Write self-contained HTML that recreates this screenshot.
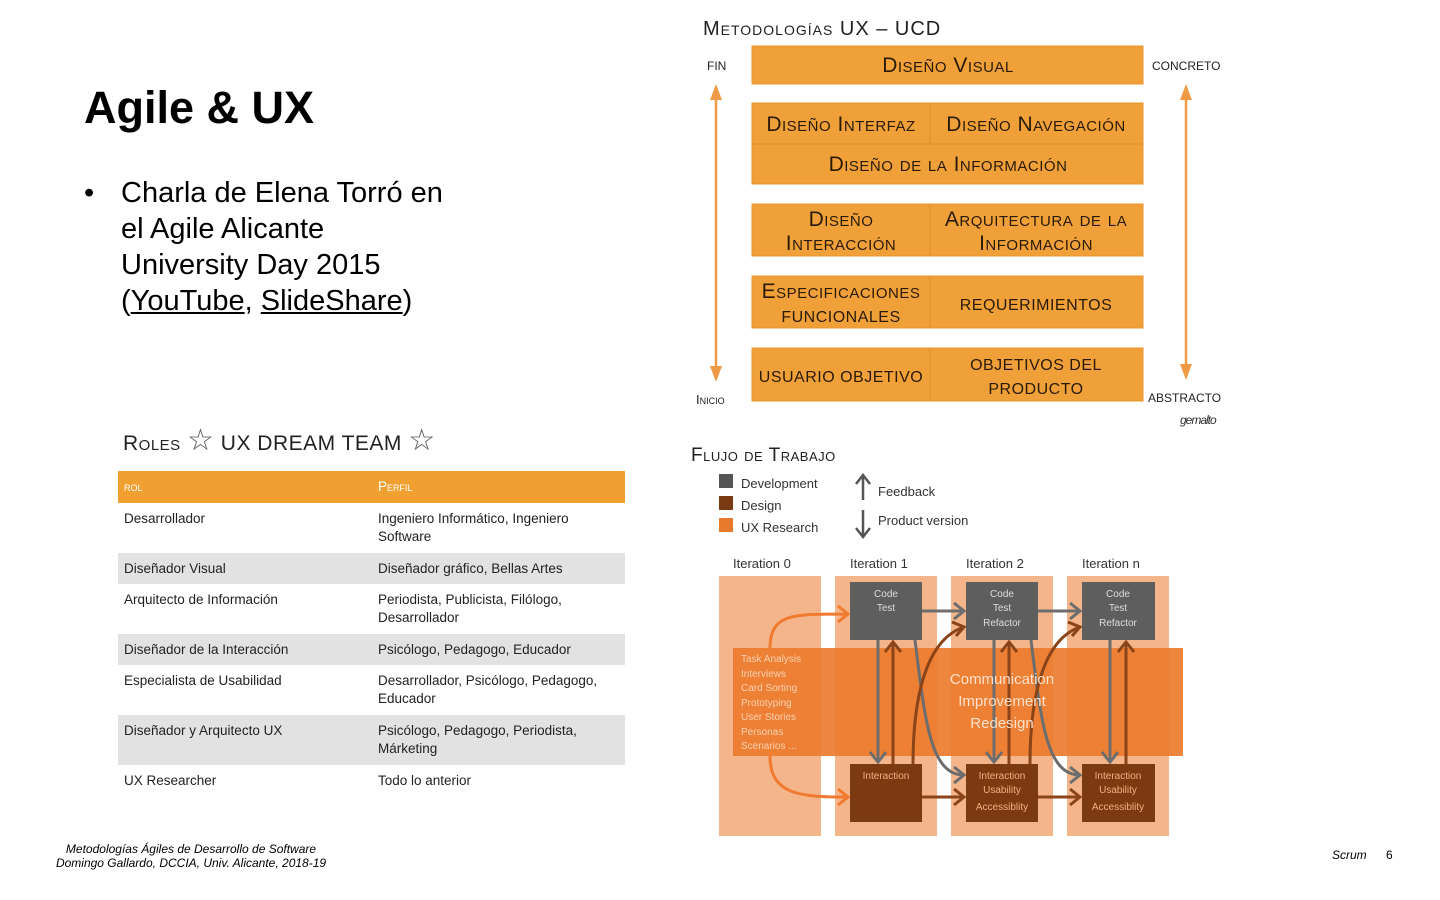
<!DOCTYPE html>
<html><head><meta charset="utf-8"><style>
body{margin:0;width:1440px;height:900px;background:#fff;position:relative;overflow:hidden;font-family:"Liberation Sans",sans-serif;}
.a{position:absolute;}
h1{position:absolute;left:84px;top:82px;margin:0;font-size:45px;font-weight:bold;color:#000;}
.bul{left:84px;top:175px;font-size:29px;line-height:36px;color:#000;}
table{position:absolute;left:118px;top:471px;width:507px;border-collapse:collapse;font-size:13.5px;color:#222;}
td{vertical-align:top;padding:7px 6px 6px;line-height:18px;}
tr.d td{padding-bottom:7px;}
tr.h td{background:#f0a030;color:#fff;font-variant:small-caps;height:17px;padding:7px 6px;}
tr.g td{background:#e2e2e2;}
.foot{font-size:12px;font-style:italic;color:#000;}
</style></head><body>
<h1>Agile &amp; UX</h1>
<div class="a bul"><span style="position:absolute;left:0">•</span><div style="margin-left:37px;width:330px">Charla de Elena Torró en el Agile Alicante University Day 2015 (<u>YouTube</u>, <u>SlideShare</u>)</div></div>

<div class="a" style="left:123px;top:423px;font-size:21px;color:#222;font-variant:small-caps;letter-spacing:.5px">Roles <span style="font-size:30px;color:#555">☆</span> UX DREAM TEAM <span style="font-size:30px;color:#555">☆</span></div>
<table>
<tr class="h"><td style="width:242px">rol</td><td>Perfil</td></tr>
<tr class="d"><td>Desarrollador</td><td>Ingeniero Informático, Ingeniero Software</td></tr>
<tr class="g"><td>Diseñador Visual</td><td>Diseñador gráfico, Bellas Artes</td></tr>
<tr class="d"><td>Arquitecto de Información</td><td>Periodista, Publicista, Filólogo, Desarrollador</td></tr>
<tr class="g"><td>Diseñador de la Interacción</td><td>Psicólogo, Pedagogo, Educador</td></tr>
<tr class="d"><td>Especialista de Usabilidad</td><td>Desarrollador, Psicólogo, Pedagogo, Educador</td></tr>
<tr class="g d"><td>Diseñador y Arquitecto UX</td><td>Psicólogo, Pedagogo, Periodista, Márketing</td></tr>
<tr><td>UX Researcher</td><td>Todo lo anterior</td></tr>
</table>

<div class="a foot" style="left:26px;top:842px;width:330px;text-align:center;line-height:14px">Metodologías Ágiles de Desarrollo de Software<br>Domingo Gallardo, DCCIA, Univ. Alicante, 2018-19</div>
<div class="a foot" style="left:1332px;top:848px">Scrum</div>
<div class="a foot" style="left:1386px;top:848px;font-style:normal">6</div>

<svg class="a" style="left:0;top:0" width="1440" height="900" font-family="Liberation Sans, sans-serif">
<g font-variant="small-caps" fill="#222">
<text x="703" y="35" font-size="20" letter-spacing="1">Metodologías UX – UCD</text>
<text x="707" y="70" font-size="12">FIN</text>
<text x="1152" y="70" font-size="12">CONCRETO</text>
<text x="696" y="404" font-size="13">Inicio</text>
<text x="1148" y="402" font-size="12">ABSTRACTO</text>
</g>
<text x="1180" y="424" font-size="12" font-style="italic" letter-spacing="-1" fill="#333">gemalto</text>
<g fill="#f0a038" stroke="#e89530">
<rect x="752" y="46" width="391" height="38"/>
<rect x="752" y="103" width="391" height="81"/>
<rect x="752" y="204" width="391" height="52"/>
<rect x="752" y="276" width="391" height="52"/>
<rect x="752" y="348" width="391" height="53"/>
</g>
<g stroke="#e0902c" stroke-width="1"><line x1="930" y1="103" x2="930" y2="144"/><line x1="752" y1="144" x2="1143" y2="144"/><line x1="930" y1="204" x2="930" y2="256"/><line x1="930" y1="276" x2="930" y2="328"/><line x1="930" y1="348" x2="930" y2="401"/></g>
<g stroke="#ef9a45" stroke-width="2.5"><line x1="716" y1="96" x2="716" y2="370"/><line x1="1186" y1="96" x2="1186" y2="368"/></g>
<g fill="#ef9a45"><path d="M716,84l-6,16h12z"/><path d="M716,382l-6,-16h12z"/><path d="M1186,84l-6,16h12z"/><path d="M1186,380l-6,-16h12z"/></g>
<g font-variant="small-caps" fill="#2a1a08" text-anchor="middle" font-size="21" letter-spacing="0.5">
<text x="948" y="72">Diseño Visual</text>
<text x="841" y="131">Diseño Interfaz</text>
<text x="1036" y="131">Diseño Navegación</text>
<text x="948" y="171">Diseño de la Información</text>
<text x="841" y="226">Diseño</text><text x="841" y="250">Interacción</text>
<text x="1036" y="226">Arquitectura de la</text><text x="1036" y="250">Información</text>
<text x="841" y="298">Especificaciones</text><text x="841" y="322" font-size="16">FUNCIONALES</text>
<text x="1036" y="310" font-size="16">REQUERIMIENTOS</text>
<text x="841" y="382" font-size="16">USUARIO OBJETIVO</text>
<text x="1036" y="370" font-size="16">OBJETIVOS DEL</text><text x="1036" y="394" font-size="16">PRODUCTO</text>
</g>

<text x="691" y="461" font-size="19" font-variant="small-caps" fill="#222" letter-spacing="0.5">Flujo de Trabajo</text>
<rect x="719" y="474" width="14" height="14" fill="#555"/>
<rect x="719" y="496" width="14" height="14" fill="#7a3a12"/>
<rect x="719" y="518" width="14" height="14" fill="#e87a2e"/>
<g font-size="13" fill="#333"><text x="741" y="488">Development</text><text x="741" y="510">Design</text><text x="741" y="532">UX Research</text>
<text x="878" y="496">Feedback</text><text x="878" y="525">Product version</text>
<text x="733" y="568">Iteration 0</text><text x="850" y="568">Iteration 1</text><text x="966" y="568">Iteration 2</text><text x="1082" y="568">Iteration n</text></g>
<g stroke="#555" stroke-width="2.5" fill="none"><path d="M863,500V476M856,484l7,-9l7,9"/><path d="M863,510V536M856,528l7,9l7,-9"/></g>

<g fill="#f4b58a">
<rect x="719" y="576" width="102" height="260"/><rect x="835" y="576" width="102" height="260"/><rect x="951" y="576" width="102" height="260"/><rect x="1067" y="576" width="102" height="260"/>
</g>
<rect x="733" y="648" width="450" height="108" fill="#ec7c2e" opacity=".92"/>
<g fill="#5e5e5e"><rect x="850" y="582" width="72" height="58"/><rect x="966" y="582" width="72" height="58"/><rect x="1082" y="582" width="73" height="58"/></g>
<g fill="#7b3a10"><rect x="850" y="764" width="72" height="58"/><rect x="966" y="764" width="72" height="58"/><rect x="1082" y="764" width="73" height="58"/></g>
<g fill="none" stroke-width="3">
<path d="M770,648C770,610 800,615 848,614M838,606l10,8l-10,8" stroke="#ef7a30"/>
<path d="M770,756C770,795 800,797 848,797M838,789l10,8l-10,8" stroke="#ef7a30"/>
<g stroke="#6d6d6d"><path d="M922,611H964M954,603l10,8l-10,8"/><path d="M1038,611H1080M1070,603l10,8l-10,8"/>
<path d="M878,640V762M870,752l8,10l8,-10"/><path d="M994,640V762M986,752l8,10l8,-10"/><path d="M1110,640V762M1102,752l8,10l8,-10"/>
<path d="M915,640C925,720 930,775 964,775M954,767l10,8l-10,8"/><path d="M1031,640C1041,720 1046,775 1080,775M1070,767l10,8l-10,8"/></g>
<g stroke="#8a4418"><path d="M893,764V642M885,652l8,-10l8,10"/><path d="M1009,764V642M1001,652l8,-10l8,10"/><path d="M1126,764V642M1118,652l8,-10l8,10"/>
<path d="M922,797H964M954,789l10,8l-10,8"/><path d="M1038,797H1080M1070,789l10,8l-10,8"/>
<path d="M913,764C913,700 925,640 964,627M952,622l12,5l-8,9"/><path d="M1030,764C1030,700 1042,640 1080,627M1068,622l12,5l-8,9"/></g>
</g>
<g font-size="10" fill="#ddd" text-anchor="middle"><text x="886" y="597">Code</text><text x="886" y="611">Test</text>
<text x="1002" y="597">Code</text><text x="1002" y="611">Test</text><text x="1002" y="626">Refactor</text>
<text x="1118" y="597">Code</text><text x="1118" y="611">Test</text><text x="1118" y="626">Refactor</text></g>
<g font-size="10" fill="#f0b080" text-anchor="middle"><text x="886" y="779">Interaction</text>
<text x="1002" y="779">Interaction</text><text x="1002" y="793">Usability</text><text x="1002" y="810">Accessiblity</text>
<text x="1118" y="779">Interaction</text><text x="1118" y="793">Usability</text><text x="1118" y="810">Accessiblity</text></g>
<g font-size="10" fill="#fbd0b0"><text x="741" y="662">Task Analysis</text><text x="741" y="677">Interviews</text><text x="741" y="691">Card Sorting</text><text x="741" y="706">Prototyping</text><text x="741" y="720">User Stories</text><text x="741" y="735">Personas</text><text x="741" y="749">Scenarios ...</text></g>
<g font-size="15" fill="#fde0cc" text-anchor="middle"><text x="1002" y="684">Communication</text><text x="1002" y="706">Improvement</text><text x="1002" y="728">Redesign</text></g>
</svg>
</body></html>
